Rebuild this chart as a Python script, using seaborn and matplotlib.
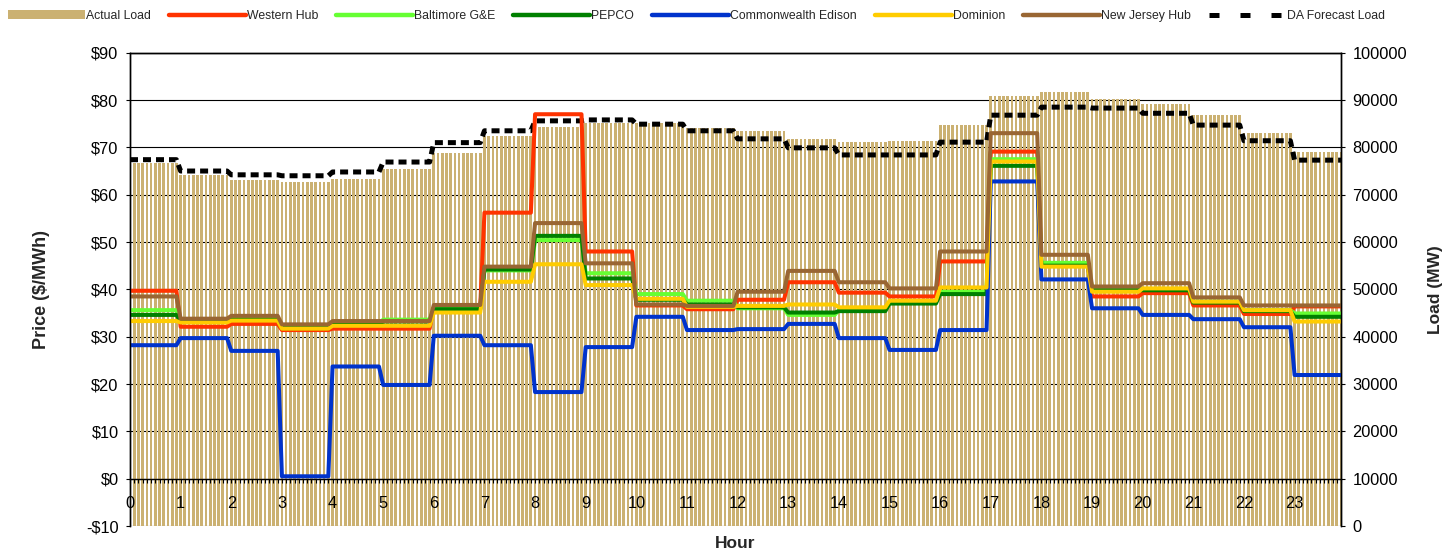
import numpy as np
import pandas as pd
import matplotlib.pyplot as plt
import matplotlib.ticker as mticker
from matplotlib.patches import Patch
from matplotlib.lines import Line2D
import seaborn as sns

# hourly values (each hour is drawn as twelve 5-minute steps)
hours = list(range(24))
actual_load = [76700, 74200, 73100, 72700, 73300, 75400, 78900, 82300, 84400, 85100, 85100, 84100,
               83500, 81800, 81100, 81300, 84700, 90800, 91700, 90200, 89200, 86800, 83000, 79000]
da_forecast = [77400, 75000, 74200, 74000, 74800, 76900, 81000, 83500, 85600, 85800, 84900, 83500,
               81800, 79900, 78400, 78400, 81100, 86800, 88500, 88300, 87200, 84700, 81400, 77300]

western_hub = [39.7, 32.1, 32.7, 31.4, 31.7, 31.7, 36.2, 56.2, 77.0, 48.0, 36.6, 35.8,
               37.8, 41.5, 39.3, 38.5, 45.9, 69.1, 45.3, 38.5, 39.2, 36.6, 34.8, 36.4]
baltimore = [35.6, 33.4, 33.8, 32.0, 32.6, 33.6, 36.0, 44.0, 50.4, 43.4, 39.0, 37.6,
             36.0, 34.6, 35.6, 37.3, 39.5, 67.5, 45.6, 40.3, 40.0, 37.4, 35.6, 34.9]
pepco = [34.6, 33.2, 33.6, 31.8, 32.5, 33.2, 35.8, 44.2, 51.3, 42.3, 37.8, 36.8,
         36.2, 35.1, 35.4, 37.0, 39.0, 66.1, 45.0, 39.8, 39.8, 37.2, 35.4, 34.2]
comed = [28.2, 29.7, 27.0, 0.5, 23.7, 19.8, 30.2, 28.2, 18.3, 27.8, 34.2, 31.4,
         31.6, 32.7, 29.7, 27.2, 31.4, 62.8, 42.1, 36.0, 34.6, 33.7, 32.0, 21.9]
dominion = [33.3, 33.0, 33.4, 31.7, 32.3, 32.3, 35.1, 41.6, 45.3, 40.9, 38.0, 36.3,
            36.5, 36.8, 36.2, 37.6, 40.4, 67.0, 44.8, 39.5, 40.2, 37.4, 35.6, 33.2]
nj_hub = [38.5, 33.8, 34.4, 32.6, 33.3, 33.3, 36.7, 44.8, 54.0, 45.5, 36.8, 36.5,
          39.5, 43.9, 41.5, 40.2, 48.0, 73.0, 47.3, 40.6, 41.3, 38.3, 36.6, 36.6]

steps = 12
df = pd.DataFrame({'t': np.arange(24 * steps) / steps})
df['Actual Load'] = np.repeat(actual_load, steps)
df['DA Forecast Load'] = np.repeat(da_forecast, steps)
price_series = [('Western Hub', western_hub, '#FF3300'),
                ('Baltimore G&E', baltimore, '#66FF33'),
                ('PEPCO', pepco, '#008000'),
                ('Commonwealth Edison', comed, '#0033CC'),
                ('Dominion', dominion, '#FFCC00'),
                ('New Jersey Hub', nj_hub, '#996633')]
for name, vals, _ in price_series:
    df[name] = np.repeat(vals, steps)

tan = '#CBB172'

sns.set_style("ticks")
plt.rcParams['font.family'] = ['Liberation Sans', 'DejaVu Sans']

fig = plt.figure(figsize=(14.51, 5.51), dpi=100)
ax = fig.add_axes([130 / 1451, 25 / 551, 1211 / 1451, 473.3 / 551])

# load on the main axes (right side), prices on the twin (left side) so lines sit on top
sns.barplot(data=df, x='t', y='Actual Load', ax=ax, native_scale=True, width=0.65,
            color=tan, saturation=1, errorbar=None, linewidth=0)
sns.lineplot(data=df, x='t', y='DA Forecast Load', ax=ax, color='black', lw=3.6,
             linestyle=(0, (1.6, 1.0)))

ax2 = ax.twinx()
for name, vals, col in price_series:
    sns.lineplot(data=df, x='t', y=name, ax=ax2, color=col, lw=2.9)

ax.yaxis.tick_right()
ax.yaxis.set_label_position('right')
ax2.yaxis.tick_left()
ax2.yaxis.set_label_position('left')

ax.set_xlim(0, (24 * steps - 1) / steps)
ax.set_ylim(0, 100000)
ax2.set_ylim(-10, 90)

ax.set_yticks(range(0, 100001, 10000))
ax.yaxis.set_major_formatter(mticker.FuncFormatter(lambda v, p: f"{int(v)}"))
ax2.set_yticks(range(-10, 91, 10))
ax2.yaxis.set_major_formatter(mticker.FuncFormatter(
    lambda v, p: f"-${abs(int(v))}" if v < 0 else f"${int(v)}"))

ax.set_xticks(hours)
ax.set_xticklabels([str(h) for h in hours])
ax.set_xticks(df['t'], minor=True)
ax.spines['bottom'].set_position(('data', 10000))

# grid behind the load bars, hour labels on top of them
ax.grid(axis='y', color='black', lw=0.8)
ax.yaxis.set_zorder(0.5)
ax.xaxis.set_zorder(3)

for a in (ax, ax2):
    for s in a.spines.values():
        s.set_color('black')
        s.set_linewidth(1)
ax2.spines['bottom'].set_visible(False)

ax.tick_params(axis='x', which='both', direction='out', length=3.2, width=0.8,
               colors='black', labelsize=11.8, pad=9)
ax.tick_params(axis='y', direction='out', length=3.2, width=0.8, colors='black',
               labelsize=11.8, pad=5)
ax2.tick_params(axis='y', direction='out', length=3.2, width=0.8, colors='black',
                labelsize=11.8, pad=5)

ax.set_xlabel('Hour', fontsize=12.5, fontweight='bold')
ax.xaxis.set_label_coords(0.5, -0.021)
ax2.set_ylabel('Price ($/MWh)', fontsize=13, fontweight='bold')
ax2.yaxis.set_label_coords(-0.066, 0.5)
ax.set_ylabel('Load (MW)', fontsize=12.5, fontweight='bold', rotation=90)
ax.yaxis.set_label_coords(1.072, 0.5)

handles = [Patch(facecolor=tan, edgecolor='none')]
labels = ['Actual Load']
for name, _, col in price_series:
    handles.append(Line2D([], [], color=col, lw=3.2))
    labels.append(name)
handles.append(Line2D([], [], color='black', lw=3.6, linestyle=(0, (2.0, 4.2))))
labels.append('DA Forecast Load')

fig.legend(handles, labels, loc='center left', bbox_to_anchor=(8 / 1451, 1 - 16 / 551),
           ncol=8, frameon=False, handlelength=6.3, handletextpad=0.08, columnspacing=1.47,
           borderpad=0, borderaxespad=0, handleheight=0.8,
           prop={'family': ['Liberation Sans', 'DejaVu Sans'], 'size': 8.8})

fig.savefig('out.png', dpi=100)
